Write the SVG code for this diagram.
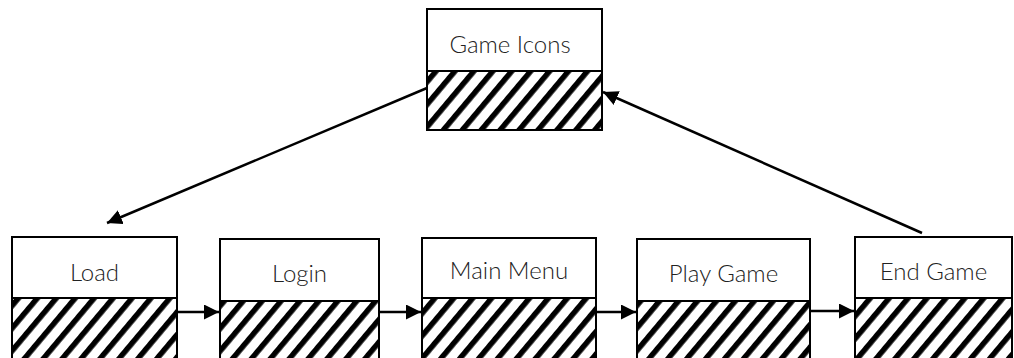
<svg xmlns="http://www.w3.org/2000/svg" width="1014" height="358" viewBox="0 0 1014 358">
  <style>
    .box { fill: #fff; stroke: #000; stroke-width: 2; }
    .hatch { fill: url(#stripes); stroke: #000; stroke-width: 2; }
    .lbl { font-family: "Lato", "Open Sans", sans-serif; font-size: 24px; font-weight: 300; fill: #222; text-anchor: middle; }
    .conn { stroke: #000; stroke-width: 2.5; fill: none; marker-end: url(#arrow); }
  </style>
  <defs>
    <pattern id="stripes" patternUnits="userSpaceOnUse" width="20" height="14.5" patternTransform="rotate(-50)">
      <rect x="0" y="0" width="20" height="14.5" fill="#fff"/>
      <rect x="0" y="0" width="20" height="5.5" fill="#000"/>
    </pattern>
    <marker id="arrow" markerUnits="userSpaceOnUse" markerWidth="16" markerHeight="16" refX="15" refY="7.5" orient="auto">
      <path d="M0,0 L15,7.5 L0,15 Z" fill="#000"/>
    </marker>
  </defs>

  <g id="connectors">
    <line class="conn" x1="177" y1="312" x2="219" y2="312"/>
    <line class="conn" x1="379" y1="312" x2="421" y2="312"/>
    <line class="conn" x1="596" y1="312" x2="636" y2="312"/>
    <line class="conn" x1="810" y1="311" x2="854" y2="311"/>
    <line class="conn" x1="427" y1="88" x2="107" y2="223"/>
    <line class="conn" x1="922" y1="233" x2="603" y2="92"/>
  </g>

  <g id="node-game-icons">
    <rect class="box" x="427" y="9" width="175" height="62"/>
    <rect class="hatch" x="427" y="71" width="175" height="59"/>
    <text class="lbl" x="510" y="53">Game Icons</text>
  </g>

  <g id="node-load">
    <rect class="box" x="12" y="237" width="165" height="61"/>
    <rect class="hatch" x="12" y="298" width="165" height="64"/>
    <text class="lbl" x="94.5" y="281">Load</text>
  </g>

  <g id="node-login">
    <rect class="box" x="220" y="239" width="159" height="62"/>
    <rect class="hatch" x="220" y="301" width="159" height="61"/>
    <text class="lbl" x="299.5" y="282">Login</text>
  </g>

  <g id="node-main-menu">
    <rect class="box" x="422" y="238" width="174" height="60"/>
    <rect class="hatch" x="422" y="298" width="174" height="64"/>
    <text class="lbl" x="509" y="279">Main Menu</text>
  </g>

  <g id="node-play-game">
    <rect class="box" x="637" y="239" width="173" height="62"/>
    <rect class="hatch" x="637" y="301" width="173" height="61"/>
    <text class="lbl" x="723.5" y="282">Play Game</text>
  </g>

  <g id="node-end-game">
    <rect class="box" x="855" y="237" width="157" height="61"/>
    <rect class="hatch" x="855" y="298" width="157" height="64"/>
    <text class="lbl" x="933.5" y="280">End Game</text>
  </g>
</svg>
